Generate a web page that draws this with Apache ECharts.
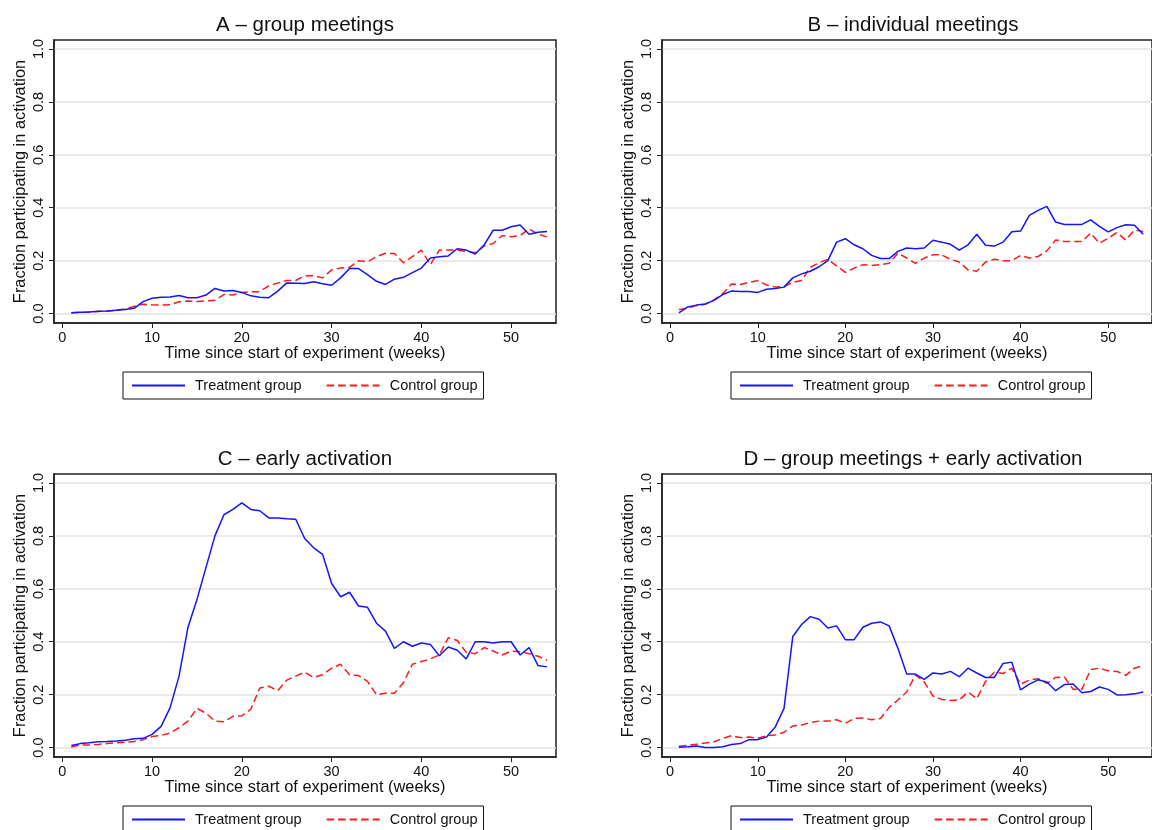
<!DOCTYPE html>
<html>
<head>
<meta charset="utf-8">
<script src="https://cdn.jsdelivr.net/npm/echarts@6/dist/echarts.min.js"></script>
<style>
  html, body { margin: 0; padding: 0; background: #fff; }
  #chart { width: 1152px; height: 830px; }
</style>
</head>
<body>
<div id="chart"></div>
<script>
const weeks = [1, 2, 3, 4, 5, 6, 7, 8, 9, 10, 11, 12, 13, 14, 15, 16, 17, 18, 19, 20,
  21, 22, 23, 24, 25, 26, 27, 28, 29, 30, 31, 32, 33, 34, 35, 36, 37, 38, 39, 40,
  41, 42, 43, 44, 45, 46, 47, 48, 49, 50, 51, 52, 53, 54];

const panelTitles = ["A \u2013 group meetings", "B \u2013 individual meetings",
  "C \u2013 early activation", "D \u2013 group meetings + early activation"];
const seriesNames = ["Treatment group", "Control group"];
const xTicks = [0, 10, 20, 30, 40, 50];
const yTicks = [0, 0.2, 0.4, 0.6, 0.8, 1.0];

// A - group meetings
const treatA = [0.003, 0.005, 0.006, 0.009, 0.01, 0.013, 0.015, 0.02, 0.045, 0.058,
  0.062, 0.063, 0.068, 0.06, 0.06, 0.07, 0.095, 0.085, 0.087, 0.08,
  0.067, 0.062, 0.06, 0.085, 0.116, 0.115, 0.114, 0.12, 0.113, 0.107,
  0.135, 0.17, 0.17, 0.147, 0.122, 0.11, 0.13, 0.137, 0.155, 0.172,
  0.21, 0.215, 0.218, 0.245, 0.24, 0.225, 0.26, 0.315, 0.315, 0.328,
  0.335, 0.3, 0.307, 0.31];
const ctrlA = [0.003, 0.004, 0.006, 0.008, 0.009, 0.013, 0.018, 0.027, 0.035, 0.033,
  0.032, 0.033, 0.045, 0.048, 0.046, 0.048, 0.05, 0.072, 0.07, 0.08,
  0.082, 0.083, 0.105, 0.115, 0.125, 0.125, 0.143, 0.143, 0.135, 0.165,
  0.172, 0.175, 0.2, 0.196, 0.215, 0.228, 0.227, 0.192, 0.215, 0.24,
  0.185, 0.24, 0.24, 0.24, 0.235, 0.23, 0.255, 0.265, 0.295, 0.29,
  0.295, 0.32, 0.3, 0.29];

// B - individual meetings
const treatB = [0.003, 0.025, 0.032, 0.036, 0.05, 0.072, 0.085, 0.083, 0.083, 0.08,
  0.092, 0.095, 0.1, 0.135, 0.15, 0.16, 0.177, 0.2, 0.27, 0.283,
  0.26, 0.245, 0.22, 0.208, 0.208, 0.235, 0.248, 0.245, 0.248, 0.277,
  0.27, 0.262, 0.24, 0.26, 0.3, 0.258, 0.255, 0.27, 0.309, 0.312,
  0.371, 0.39, 0.405, 0.346, 0.337, 0.337, 0.337, 0.354, 0.33, 0.309,
  0.325, 0.336, 0.334, 0.3];
const ctrlB = [0.015, 0.02, 0.03, 0.035, 0.052, 0.075, 0.112, 0.11, 0.118, 0.125,
  0.108, 0.1, 0.102, 0.118, 0.125, 0.175, 0.192, 0.205, 0.18, 0.156,
  0.172, 0.185, 0.182, 0.185, 0.19, 0.228, 0.21, 0.19, 0.21, 0.222,
  0.222, 0.205, 0.195, 0.165, 0.16, 0.195, 0.205, 0.2, 0.2, 0.22,
  0.21, 0.216, 0.237, 0.278, 0.272, 0.272, 0.272, 0.304, 0.266, 0.285,
  0.306, 0.278, 0.316, 0.31];

// C - early activation
const treatC = [0.008, 0.015, 0.018, 0.022, 0.023, 0.025, 0.028, 0.033, 0.035, 0.05,
  0.08, 0.15, 0.27, 0.455, 0.56, 0.68, 0.8, 0.88, 0.9, 0.925,
  0.9, 0.895, 0.868, 0.868, 0.865, 0.863, 0.79, 0.755, 0.73, 0.62,
  0.57, 0.587, 0.535, 0.53, 0.47, 0.44, 0.375, 0.4, 0.383, 0.395,
  0.39, 0.347, 0.38, 0.368, 0.335, 0.4, 0.4, 0.395, 0.4, 0.4,
  0.35, 0.378, 0.31, 0.305];
const ctrlC = [0.002, 0.01, 0.01, 0.012, 0.015, 0.018, 0.02, 0.023, 0.03, 0.042,
  0.046, 0.055, 0.075, 0.1, 0.148, 0.13, 0.1, 0.098, 0.118, 0.12,
  0.145, 0.225, 0.232, 0.215, 0.255, 0.27, 0.285, 0.265, 0.275, 0.3,
  0.315, 0.275, 0.272, 0.25, 0.2, 0.205, 0.205, 0.245, 0.315, 0.325,
  0.335, 0.35, 0.415, 0.405, 0.36, 0.355, 0.378, 0.365, 0.35, 0.365,
  0.362, 0.355, 0.345, 0.33];

// D - group meetings + early activation
const treatD = [0.001, 0.003, 0.006, 0.0, 0.0, 0.003, 0.012, 0.015, 0.03, 0.03,
  0.04, 0.078, 0.148, 0.42, 0.465, 0.495, 0.485, 0.452, 0.46, 0.408,
  0.408, 0.455, 0.47, 0.475, 0.46, 0.375, 0.278, 0.278, 0.258, 0.282,
  0.278, 0.288, 0.268, 0.3, 0.282, 0.265, 0.265, 0.318, 0.323, 0.218,
  0.24, 0.256, 0.248, 0.215, 0.238, 0.24, 0.207, 0.212, 0.229, 0.22,
  0.199, 0.2, 0.203, 0.21];
const ctrlD = [0.005, 0.008, 0.013, 0.017, 0.022, 0.035, 0.045, 0.038, 0.04, 0.035,
  0.045, 0.048, 0.058, 0.082, 0.085, 0.095, 0.1, 0.1, 0.105, 0.092,
  0.11, 0.112, 0.105, 0.11, 0.152, 0.18, 0.21, 0.275, 0.248, 0.195,
  0.182, 0.178, 0.18, 0.21, 0.185, 0.25, 0.285, 0.28, 0.3, 0.24,
  0.255, 0.26, 0.243, 0.265, 0.267, 0.22, 0.22, 0.295, 0.3, 0.29,
  0.288, 0.273, 0.3, 0.31];

const treatments = [treatA, treatB, treatC, treatD];
const controls = [ctrlA, ctrlB, ctrlC, ctrlD];

const font = "Liberation Sans, Arial, Helvetica, sans-serif";
const blue = "#1414ff";
const red = "#ff1a1a";
// panel frame positions (left, top) in px
const panelPos = [[54, 40], [662, 40], [54, 474], [662, 474]];
const frameW = 502;
const frameH = 283;

const pairs = (vals) => weeks.map((w, i) => [w, vals[i]]);

let option = {
  animation: false,
  backgroundColor: "#fff",
  title: [],
  legend: [],
  grid: [],
  xAxis: [],
  yAxis: [],
  series: [],
};

panelPos.forEach((p, i) => {
  const [left, top] = p;
  option.title.push({
    text: panelTitles[i],
    left: left + frameW / 2,
    top: top - 25,
    textAlign: "center",
    padding: 0,
    textStyle: { fontFamily: font, fontSize: 20.5, fontWeight: "normal", color: "#111" },
  });
  option.legend.push({
    data: seriesNames,
    left: left + 69,
    top: top + 332,
    itemWidth: 53,
    itemHeight: 14,
    itemGap: 24,
    padding: [6, 6, 6, 8],
    borderColor: "#111",
    borderWidth: 1,
    itemStyle: { opacity: 0 },
    textStyle: { fontFamily: font, fontSize: 14.5, color: "#111", padding: [0, 0, 0, 5] },
  });
  option.grid.push({
    left: left,
    top: top,
    width: frameW,
    height: frameH,
    show: true,
    borderColor: "#222",
    borderWidth: 1.5,
    backgroundColor: "#fff",
  });
  option.xAxis.push({
    type: "value",
    gridIndex: i,
    min: -0.93,
    max: 55.0,
    name: "Time since start of experiment (weeks)",
    nameLocation: "middle",
    nameGap: 21,
    nameTextStyle: { fontFamily: font, fontSize: 16.4, color: "#111" },
    axisLine: { show: true, onZero: false, lineStyle: { color: "#222", width: 1.5 } },
    axisTick: { show: true, length: 5, customValues: xTicks, lineStyle: { color: "#222" } },
    axisLabel: { customValues: xTicks, margin: 7, fontFamily: font, fontSize: 14.5, color: "#111" },
    splitLine: { show: false },
  });
  option.yAxis.push({
    type: "value",
    gridIndex: i,
    min: -0.0356,
    max: 1.034,
    name: "Fraction participating in activation",
    nameLocation: "middle",
    nameGap: 26,
    nameTextStyle: { fontFamily: font, fontSize: 16.4, color: "#111" },
    axisLine: { show: true, onZero: false, lineStyle: { color: "#222", width: 1.5 } },
    axisTick: { show: true, length: 5, customValues: yTicks, lineStyle: { color: "#222" } },
    axisLabel: {
      customValues: yTicks,
      rotate: 90,
      margin: 8,
      fontFamily: font,
      fontSize: 14.5,
      color: "#111",
      formatter: (v) => v.toFixed(1),
    },
    splitLine: { show: true, lineStyle: { color: "#e3e3e3", width: 1.5 } },
  });
  option.series.push({
    name: seriesNames[0],
    type: "line",
    xAxisIndex: i,
    yAxisIndex: i,
    symbol: "none",
    data: pairs(treatments[i]),
    lineStyle: { color: blue, width: 1.5 },
    itemStyle: { color: blue },
    z: 3,
  });
  option.series.push({
    name: seriesNames[1],
    type: "line",
    xAxisIndex: i,
    yAxisIndex: i,
    symbol: "none",
    data: pairs(controls[i]),
    lineStyle: { color: red, width: 1.5, type: [7.5, 4] },
    itemStyle: { color: red },
    z: 2,
  });
});

const chartDom = document.getElementById("chart");
const myChart = echarts.init(chartDom, null, { renderer: "canvas" });
myChart.setOption(option);
</script>
</body>
</html>
